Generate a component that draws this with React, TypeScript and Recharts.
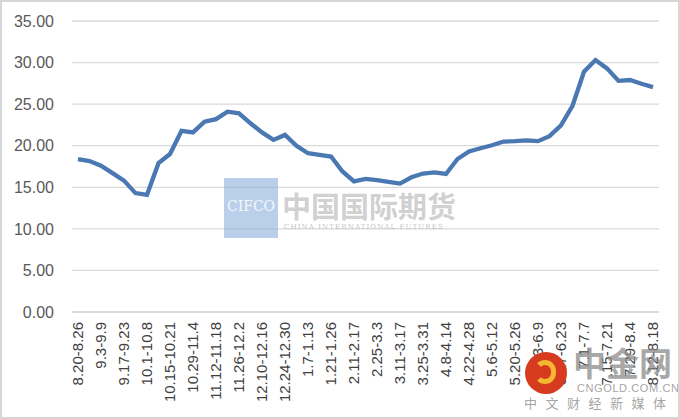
import { LineChart, Line, XAxis, YAxis, CartesianGrid } from "recharts";

// weekly periods
const weeks = [
  "8.20-8.26", "8.27-9.2", "9.3-9.9", "9.10-9.16", "9.17-9.23", "9.24-9.30",
  "10.1-10.8", "10.9-10.14", "10.15-10.21", "10.22-10.28", "10.29-11.4", "11.5-11.11",
  "11.12-11.18", "11.19-11.25", "11.26-12.2", "12.3-12.9", "12.10-12.16", "12.17-12.23",
  "12.24-12.30", "12.31-1.6", "1.7-1.13", "1.14-1.20", "1.21-1.26", "1.27-2.10",
  "2.11-2.17", "2.18-2.24", "2.25-3.3", "3.4-3.10", "3.11-3.17", "3.18-3.24",
  "3.25-3.31", "4.1-4.7", "4.8-4.14", "4.15-4.21", "4.22-4.28", "4.29-5.5",
  "5.6-5.12", "5.13-5.19", "5.20-5.26", "5.27-6.2", "6.3-6.9", "6.10-6.16",
  "6.17-6.23", "6.24-6.30", "7.1-7.7", "7.8-7.14", "7.15-7.21", "7.22-7.28",
  "7.29-8.4", "8.5-8.11", "8.12-8.18",
];

const values = [
  18.4, 18.15, 17.6, 16.7, 15.8, 14.3, 14.1, 17.9, 19.0, 21.8, 21.6, 22.9,
  23.2, 24.1, 23.9, 22.7, 21.6, 20.7, 21.3, 20.0, 19.1, 18.9, 18.7, 16.9,
  15.7, 16.0, 15.85, 15.65, 15.45, 16.2, 16.65, 16.8, 16.6, 18.4, 19.3, 19.7,
  20.05, 20.5, 20.55, 20.65, 20.55, 21.15, 22.45, 24.8, 28.9, 30.3, 29.3, 27.8,
  27.9, 27.45, 27.05,
];

const yTicks = [0, 5, 10, 15, 20, 25, 30, 35];

const data = weeks.map((w, i) => ({ week: w, value: values[i] }));

const XTick = (props: any) => {
  const { x, y, payload } = props;
  return (
    <text
      x={x}
      y={y + 2}
      transform={`rotate(-90, ${x}, ${y + 2})`}
      textAnchor="end"
      dy="0.36em"
      fontSize={15}
      fill="#404040"
      fontFamily="Liberation Sans, Arial, sans-serif"
    >
      {payload.value}
    </text>
  );
};

export default function App() {
  return (
    <div style={{ position: "absolute", left: 0, top: 0, width: 680, height: 419, background: "#fff" }}>
      <LineChart width={680} height={419} data={data} margin={{ top: 21, right: 21, bottom: 0, left: 0 }}>
        <CartesianGrid vertical={false} stroke="#d9d9d9" strokeWidth={1.3} />
        <XAxis
          dataKey="week"
          interval={1}
          tick={<XTick />}
          tickLine={false}
          axisLine={{ stroke: "#d9d9d9", strokeWidth: 1.3 }}
          height={107}
          padding={{ left: 6, right: 6 }}
        />
        <YAxis
          domain={[0, 35]}
          ticks={yTicks}
          tickFormatter={(v: number) => v.toFixed(2)}
          axisLine={false}
          tickLine={false}
          tickMargin={12}
          width={72}
          tick={{ fontSize: 16, fill: "#595959", fontFamily: "Liberation Sans, Arial, sans-serif" }}
        />
        <Line
          type="linear"
          dataKey="value"
          stroke="#4a78b2"
          strokeWidth={4.3}
          dot={false}
          isAnimationActive={false}
        />
      </LineChart>

      {/* CIFCO watermark */}
      <div style={{ position: "absolute", left: 224, top: 178, width: 54, height: 60, background: "rgba(140,175,220,0.6)" }} />
      <div style={{ position: "absolute", left: 224, top: 198, width: 54, textAlign: "center", fontFamily: "DejaVu Serif, serif", fontSize: 14, color: "rgba(255,255,255,0.85)" }}>
        CIFCO
      </div>
      <div style={{ position: "absolute", left: 282, top: 184, fontFamily: "Noto Sans CJK SC, sans-serif", fontSize: 29, fontWeight: 700, color: "rgba(150,150,150,0.45)" }}>
        中国国际期货
      </div>
      <div style={{ position: "absolute", left: 284, top: 223, fontFamily: "DejaVu Serif, serif", fontSize: 7, color: "rgba(150,150,150,0.6)", letterSpacing: 1.1 }}>
        CHINA INTERNATIONAL FUTURES
      </div>

      {/* cngold logo */}
      <div style={{ position: "absolute", left: 525, top: 352, width: 42, height: 42, borderRadius: 21, background: "#d63a1f" }} />
      <div style={{ position: "absolute", left: 534, top: 360, width: 22, height: 24, borderRadius: 12, border: "5px solid #f5b731", borderLeftColor: "transparent", boxSizing: "border-box" }} />
      <div style={{ position: "absolute", left: 573, top: 338, fontFamily: "Noto Sans CJK SC, sans-serif", fontSize: 33, fontWeight: 700, color: "rgba(140,140,140,0.75)" }}>
        中金网
      </div>
      <div style={{ position: "absolute", left: 577, top: 382, fontFamily: "Liberation Sans, Arial, sans-serif", fontSize: 11, color: "rgba(140,140,140,0.8)", letterSpacing: 0.6 }}>
        CNGOLD.COM.CN
      </div>
      <div style={{ position: "absolute", left: 524, top: 393, fontFamily: "Noto Sans CJK SC, sans-serif", fontSize: 13, color: "rgba(140,140,140,0.8)", letterSpacing: 8.5 }}>
        中文财经新媒体
      </div>

      <div style={{ position: "absolute", left: 0, top: 0, width: 680, height: 419, border: "2px solid #d6d6d6", boxSizing: "border-box", pointerEvents: "none" }} />
    </div>
  );
}
